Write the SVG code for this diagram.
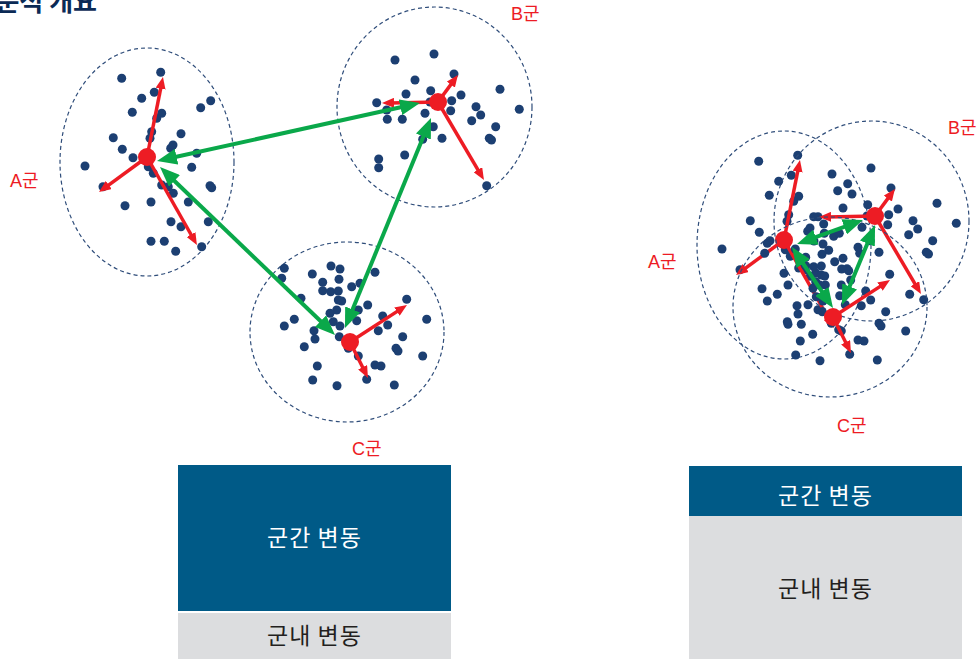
<svg xmlns="http://www.w3.org/2000/svg" xmlns:xlink="http://www.w3.org/1999/xlink" width="977" height="659" viewBox="0 0 977 659">
<style>
.d{fill:#1c3f72}
.ring{fill:none;stroke:#2f4d7a;stroke-width:1.2;stroke-dasharray:4 3}
.red{stroke:#ed1c24;stroke-width:3.5;fill:none;marker-end:url(#rh)}
.cen{fill:#ed1c24}
.grn{stroke:#0aa84a;stroke-width:4;fill:none;marker-start:url(#gh);marker-end:url(#gh)}
.lbl{font-family:"Liberation Sans","Noto Sans CJK KR",sans-serif;font-size:18px;fill:#ed1c24}
.bx{font-family:"Noto Sans CJK KR","Noto Sans",sans-serif;font-size:23px;text-anchor:middle;letter-spacing:1px}
</style>
<defs>
<marker id="rh" markerUnits="userSpaceOnUse" markerWidth="12" markerHeight="10" refX="4" refY="5" orient="auto"><path d="M0,0 L12,5 L0,10 z" fill="#ed1c24"/></marker>
<marker id="gh" markerUnits="userSpaceOnUse" markerWidth="20" markerHeight="16" refX="6" refY="8" orient="auto-start-reverse"><path d="M0,0 L20,8 L0,16 z" fill="#0aa84a"/></marker>
<g id="clA">
<ellipse class="ring" cx="0" cy="5" rx="87" ry="114"/>
<g class="d">
<circle cx="-25.3" cy="-78.7" r="4.5"/><circle cx="13.7" cy="-84.7" r="4.5"/><circle cx="7.3" cy="-64.7" r="4.5"/><circle cx="-5.3" cy="-58.7" r="4.5"/><circle cx="-14.7" cy="-44.7" r="4.5"/><circle cx="14.7" cy="-43.7" r="4.5"/><circle cx="9.7" cy="-38.7" r="4.5"/><circle cx="53.7" cy="-49.3" r="4.5"/><circle cx="63.7" cy="-56.3" r="4.5"/><circle cx="4.7" cy="-25.3" r="4.5"/><circle cx="3" cy="-18.7" r="4.5"/><circle cx="34" cy="-23.3" r="4.5"/><circle cx="-33.7" cy="-19.3" r="4.5"/><circle cx="-24.7" cy="-7.7" r="4.5"/><circle cx="23.7" cy="-8.7" r="4.5"/><circle cx="26" cy="-12" r="4.5"/><circle cx="49.7" cy="-3.7" r="4.5"/><circle cx="-14" cy="0.7" r="4.5"/><circle cx="-62" cy="9" r="4.5"/><circle cx="1.3" cy="9.7" r="4.5"/><circle cx="6.3" cy="16.3" r="4.5"/><circle cx="44.7" cy="10.3" r="4.5"/><circle cx="14.7" cy="28" r="4.5"/><circle cx="21.3" cy="29.7" r="4.5"/><circle cx="26.3" cy="36.3" r="4.5"/><circle cx="63" cy="28.7" r="4.5"/><circle cx="64.7" cy="30.7" r="4.5"/><circle cx="-22" cy="48.7" r="4.5"/><circle cx="4" cy="45" r="4.5"/><circle cx="41.3" cy="45" r="4.5"/><circle cx="61.3" cy="64.7" r="4.5"/><circle cx="24" cy="64.7" r="4.5"/><circle cx="34" cy="69.7" r="4.5"/><circle cx="4" cy="84.3" r="4.5"/><circle cx="17.3" cy="84.3" r="4.5"/><circle cx="28.7" cy="94.3" r="4.5"/><circle cx="54.7" cy="89.7" r="4.5"/><circle cx="-44" cy="29.7" r="4.5"/>
</g>
<path class="red" d="M0,0 L14.4,-72.2"/><path class="red" d="M0,0 L-41.5,30.3"/><path class="red" d="M0,0 L46,81"/>
<circle class="cen" cx="0" cy="0" r="9"/>
</g>
<g id="clB">
<ellipse class="ring" cx="-3.5" cy="5" rx="97.5" ry="100"/>
<g class="d">
<circle cx="-4" cy="-48" r="4.5"/><circle cx="-43" cy="-42" r="4.5"/><circle cx="-23" cy="-22" r="4.5"/><circle cx="16" cy="-28" r="4.5"/><circle cx="-32" cy="-8" r="4.5"/><circle cx="-7.3" cy="-11.3" r="4.5"/><circle cx="-61.3" cy="0.7" r="4.5"/><circle cx="-51.3" cy="8" r="4.5"/><circle cx="-50.7" cy="17.3" r="4.5"/><circle cx="-35.7" cy="17.3" r="4.5"/><circle cx="-13" cy="11.3" r="4.5"/><circle cx="13.7" cy="-1.3" r="4.5"/><circle cx="23" cy="-7" r="4.5"/><circle cx="12.7" cy="8.7" r="4.5"/><circle cx="-4.7" cy="24.7" r="4.5"/><circle cx="-15.3" cy="37.3" r="4.5"/><circle cx="4" cy="36.3" r="4.5"/><circle cx="38" cy="4.7" r="4.5"/><circle cx="42.7" cy="13" r="4.5"/><circle cx="33.7" cy="18.7" r="4.5"/><circle cx="57.7" cy="24.7" r="4.5"/><circle cx="51.3" cy="36.3" r="4.5"/><circle cx="53.5" cy="38" r="4.5"/><circle cx="62" cy="-12.7" r="4.5"/><circle cx="81.3" cy="7.3" r="4.5"/><circle cx="-33.3" cy="53" r="4.5"/><circle cx="-59.3" cy="57" r="4.5"/><circle cx="-59.3" cy="65.7" r="4.5"/><circle cx="48.7" cy="83.7" r="4.5"/><circle cx="-8" cy="0" r="4.5"/>
</g>
<path class="red" d="M0,0 L15.2,-20.6"/><path class="red" d="M0,0 L-48,0.9"/><path class="red" d="M0,0 L41.9,71.1"/>
<circle class="cen" cx="0" cy="0" r="9"/>
</g>
<g id="clC">
<ellipse class="ring" cx="-3" cy="-10" rx="97" ry="90"/>
<g class="d">
<circle cx="-65.7" cy="-73.7" r="4.5"/><circle cx="-19" cy="-76" r="4.5"/><circle cx="-10" cy="-73" r="4.5"/><circle cx="25" cy="-69.7" r="4.5"/><circle cx="-68.3" cy="-63.7" r="4.5"/><circle cx="-37.7" cy="-68" r="4.5"/><circle cx="-11" cy="-62.7" r="4.5"/><circle cx="-27.3" cy="-59.7" r="4.5"/><circle cx="1.7" cy="-55.3" r="4.5"/><circle cx="10" cy="-58.7" r="4.5"/><circle cx="-27.3" cy="-51.3" r="4.5"/><circle cx="-19.3" cy="-50.3" r="4.5"/><circle cx="-11.7" cy="-51" r="4.5"/><circle cx="-49" cy="-43.7" r="4.5"/><circle cx="-11.7" cy="-42" r="4.5"/><circle cx="-8.3" cy="-41" r="4.5"/><circle cx="-13.3" cy="-32" r="4.5"/><circle cx="-20" cy="-28.7" r="4.5"/><circle cx="17.7" cy="-37" r="4.5"/><circle cx="8.3" cy="-32" r="4.5"/><circle cx="56.7" cy="-42.7" r="4.5"/><circle cx="-55.7" cy="-22.7" r="4.5"/><circle cx="-65.7" cy="-16" r="4.5"/><circle cx="-16.7" cy="-20.3" r="4.5"/><circle cx="-10" cy="-16" r="4.5"/><circle cx="6.7" cy="-21.3" r="4.5"/><circle cx="32.7" cy="-26" r="4.5"/><circle cx="37.7" cy="-17" r="4.5"/><circle cx="28.3" cy="-11.3" r="4.5"/><circle cx="76.7" cy="-22.7" r="4.5"/><circle cx="-36" cy="-11.3" r="4.5"/><circle cx="-35" cy="-3" r="4.5"/><circle cx="-10.7" cy="-5.3" r="4.5"/><circle cx="52.7" cy="-5.3" r="4.5"/><circle cx="-45.7" cy="4.7" r="4.5"/><circle cx="-1.7" cy="6.3" r="4.5"/><circle cx="46" cy="6.3" r="4.5"/><circle cx="48" cy="9" r="4.5"/><circle cx="8.3" cy="14" r="4.5"/><circle cx="72.7" cy="14" r="4.5"/><circle cx="-32.7" cy="24" r="4.5"/><circle cx="25" cy="23" r="4.5"/><circle cx="31" cy="24" r="4.5"/><circle cx="-37.3" cy="38" r="4.5"/><circle cx="-13" cy="43.7" r="4.5"/><circle cx="16.7" cy="37.3" r="4.5"/><circle cx="44.3" cy="43" r="4.5"/>
</g>
<path class="red" d="M0,0 L50.3,-32.6"/><path class="red" d="M0,0 L14.4,28.8"/>
<circle class="cen" cx="0" cy="0" r="9"/>
</g>
</defs>
<rect width="977" height="659" fill="#ffffff"/>
<text x="97" y="11" text-anchor="end" font-family="'Noto Sans CJK KR',sans-serif" font-weight="bold" font-size="26" fill="#0b2a55">분산분석 개요</text>

<g id="left-A" transform="translate(147,157)"><use xlink:href="#clA"/></g>
<g id="left-B" transform="translate(438,102)"><use xlink:href="#clB"/></g>
<g id="left-C" transform="translate(350,342)"><use xlink:href="#clC"/></g>

<g id="right-A" transform="translate(784,240)"><use xlink:href="#clA"/></g>
<g id="right-B" transform="translate(875,216)"><use xlink:href="#clB"/></g>
<g id="right-C" transform="translate(833,317)"><use xlink:href="#clC"/></g>

<g id="connectors">
<path class="grn" d="M170.7,158 L406.3,106"/>
<path class="grn" d="M170.1,176.7 L324.9,325.3"/>
<path class="grn" d="M425.7,131 L350.3,315"/>
<path class="grn" d="M810.2,239.2 L849.8,224.8"/>
<path class="grn" d="M799.8,258.6 L825.2,296.4"/>
<path class="grn" d="M869.7,238 L847.3,292"/>
</g>

<g id="labels">
<text class="lbl" x="10" y="187">A군</text>
<text class="lbl" x="511" y="20">B군</text>
<text class="lbl" x="352" y="455">C군</text>
<text class="lbl" x="648" y="268">A군</text>
<text class="lbl" x="948" y="134">B군</text>
<text class="lbl" x="837" y="432">C군</text>
</g>

<g id="box-left">
<rect x="178" y="465" width="273" height="146" fill="#005a87"/>
<text class="bx" x="314.5" y="546" fill="#ffffff">군간 변동</text>
<rect x="178" y="613" width="273" height="46" fill="#dcdddf"/>
<text class="bx" x="314.5" y="644" fill="#231f20">군내 변동</text>
</g>
<g id="box-right">
<rect x="689" y="466" width="273" height="50" fill="#005a87"/>
<text class="bx" x="825.5" y="504" fill="#ffffff">군간 변동</text>
<rect x="689" y="516" width="273" height="143" fill="#dcdddf"/>
<text class="bx" x="825.5" y="597" fill="#231f20">군내 변동</text>
</g>
</svg>
